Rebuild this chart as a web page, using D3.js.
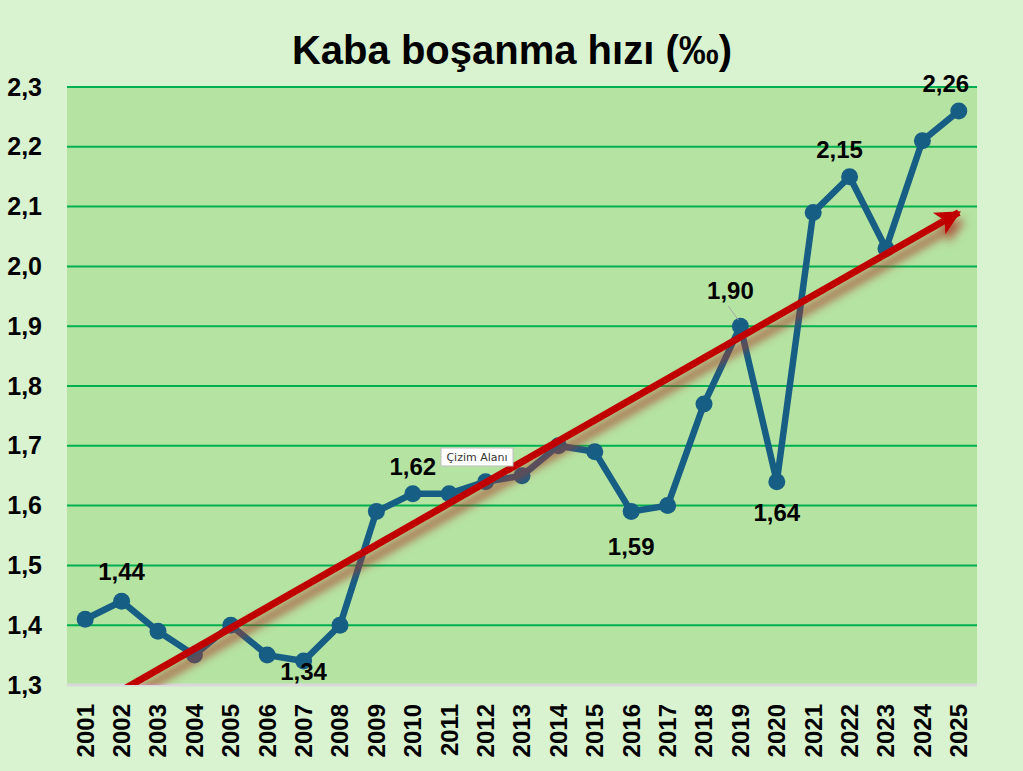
<!DOCTYPE html>
<html>
<head>
<meta charset="utf-8">
<script src="https://cdn.jsdelivr.net/npm/d3@7"></script>
<style>
  body { margin: 0; background: #d9f3d1; }
  svg { display: block; font-family: "Liberation Sans", Arial, sans-serif; }
</style>
</head>
<body>
<svg id="chart" width="1023" height="771"></svg>
<script>
// data
const years = ['2001','2002','2003','2004','2005','2006','2007','2008','2009','2010','2011','2012','2013',
  '2014','2015','2016','2017','2018','2019','2020','2021','2022','2023','2024','2025'];
const rates = [1.41, 1.44, 1.39, 1.35, 1.40, 1.35, 1.34, 1.40, 1.59, 1.62, 1.62, 1.64, 1.65,
  1.70, 1.69, 1.59, 1.60, 1.77, 1.90, 1.64, 2.09, 2.15, 2.03, 2.21, 2.26];
const yTicks = [1.3, 1.4, 1.5, 1.6, 1.7, 1.8, 1.9, 2.0, 2.1, 2.2, 2.3];
const labelledYears = ['2002','2007','2010','2016','2019','2020','2022','2025'];

// label placement (dx, dy from the marker)
const labelPos = {
  '2002': [0, -21], '2007': [0, 19], '2010': [0, -19], '2016': [0, 43],
  '2019': [-10, -27], '2020': [0, 39], '2022': [-10, -19], '2025': [-13, -19]
};

let svg = d3.select('#chart');
let plotL = 67, plotR = 977, plotT = 87, plotB = 685;

let comma = f => (v => d3.format(f)(v).replace('.', ','));

let x = d3.scaleBand().domain(years).range([plotL, plotR]).padding(0);
let y = d3.scaleLinear().domain([1.3, 2.3]).range([plotB, plotT]);
let cx = d => x(d) + x.bandwidth() / 2;

let defs = svg.append('defs');
defs.append('clipPath').attr('id', 'plotClip')
  .append('rect').attr('x', plotL).attr('y', plotT - 2).attr('width', plotR - plotL).attr('height', plotB - plotT + 2);

let shadow = defs.append('filter').attr('id', 'shadow')
  .attr('x', '-20%').attr('y', '-20%').attr('width', '140%').attr('height', '140%');
shadow.append('feGaussianBlur').attr('in', 'SourceAlpha').attr('stdDeviation', 5).attr('result', 'blur');
shadow.append('feOffset').attr('in', 'blur').attr('dx', 3).attr('dy', 9).attr('result', 'off');
shadow.append('feFlood').attr('flood-color', '#a83a28').attr('flood-opacity', 0.85);
shadow.append('feComposite').attr('in2', 'off').attr('operator', 'in').attr('result', 'sh');
let merge = shadow.append('feMerge');
merge.append('feMergeNode').attr('in', 'sh');
merge.append('feMergeNode').attr('in', 'SourceGraphic');

defs.append('marker').attr('id', 'arrow')
  .attr('viewBox', '0 0 10 10').attr('refX', 9).attr('refY', 5)
  .attr('markerWidth', 4).attr('markerHeight', 3.6)
  .attr('markerUnits', 'strokeWidth').attr('orient', 'auto')
  .append('path').attr('d', 'M0,0 L10,5 L0,10 L2.5,5 Z').attr('fill', '#c00000');

// title
svg.append('text')
  .attr('x', 512).attr('y', 64)
  .attr('text-anchor', 'middle')
  .style('font-size', '40px').style('font-weight', 'bold')
  .text('Kaba boşanma hızı (‰)');

// plot area
svg.append('rect')
  .attr('x', plotL).attr('y', plotT).attr('width', plotR - plotL).attr('height', plotB - plotT)
  .attr('fill', '#b5e4a2');

// gridlines
svg.append('g').selectAll('line').data(yTicks.filter(t => t > 1.3)).join('line')
  .attr('x1', plotL).attr('x2', plotR)
  .attr('y1', d => y(d)).attr('y2', d => y(d))
  .attr('stroke', '#00b050').attr('stroke-width', 2);

// bottom axis line
svg.append('line')
  .attr('x1', plotL).attr('x2', plotR).attr('y1', plotB).attr('y2', plotB)
  .attr('stroke', '#d9d9d9').attr('stroke-width', 3);

// y axis
let yAxis = svg.append('g')
  .attr('transform', `translate(${plotL},0)`)
  .call(d3.axisLeft(y).tickValues(yTicks).tickFormat(comma('.1f')).tickSize(0).tickPadding(25));
yAxis.select('.domain').remove();
yAxis.selectAll('text')
  .style('font-size', '25px').style('font-weight', 'bold').attr('fill', '#000')
  .style('font-family', '"Liberation Sans", Arial, sans-serif');

// x axis
let xAxis = svg.append('g')
  .attr('transform', `translate(0,${plotB})`)
  .call(d3.axisBottom(x).tickSize(0).tickPadding(0));
xAxis.select('.domain').remove();
xAxis.selectAll('text')
  .attr('transform', 'rotate(-90)')
  .attr('x', -19).attr('y', 0).attr('dy', '0.35em')
  .attr('text-anchor', 'end')
  .style('font-size', '24px').style('font-weight', 'bold').attr('fill', '#000')
  .style('font-family', '"Liberation Sans", Arial, sans-serif');

// data line + markers
let line = d3.line().x((d, i) => cx(years[i])).y(d => y(d));
svg.append('path')
  .datum(rates)
  .attr('d', line)
  .attr('fill', 'none')
  .attr('stroke', '#175e84').attr('stroke-width', 6.5)
  .attr('stroke-linejoin', 'round');

svg.append('g').selectAll('circle').data(rates).join('circle')
  .attr('cx', (d, i) => cx(years[i]))
  .attr('cy', d => y(d))
  .attr('r', 8.5)
  .attr('fill', '#175e84');

// linear trend, drawn as an arrow
let xi = years.map((d, i) => i);
let mx = d3.mean(xi), my = d3.mean(rates);
let slope = d3.sum(xi, i => (i - mx) * (rates[i] - my)) / d3.sum(xi, i => (i - mx) * (i - mx));
let icpt = my - slope * mx;
let trend = [0, years.length - 1].map(i => [cx(years[i]), y(icpt + slope * i)]);

svg.append('g').attr('clip-path', 'url(#plotClip)')
  .append('line')
  .attr('x1', trend[0][0]).attr('y1', trend[0][1])
  .attr('x2', trend[1][0]).attr('y2', trend[1][1])
  .attr('stroke', '#c00000').attr('stroke-width', 7)
  .attr('marker-end', 'url(#arrow)')
  .attr('filter', 'url(#shadow)');

// leader line for 1,90
let i19 = years.indexOf('2019');
svg.append('line')
  .attr('x1', cx('2019') - 12).attr('y1', y(rates[i19]) - 20)
  .attr('x2', cx('2019') - 2).attr('y2', y(rates[i19]) - 6)
  .attr('stroke', '#a6a6a6').attr('stroke-width', 1);

// data labels
svg.append('g').selectAll('text').data(labelledYears).join('text')
  .attr('x', d => cx(d) + labelPos[d][0])
  .attr('y', d => y(rates[years.indexOf(d)]) + labelPos[d][1])
  .attr('text-anchor', 'middle')
  .style('font-size', '24px').style('font-weight', 'bold')
  .text(d => comma('.2f')(rates[years.indexOf(d)]));

// hover tooltip caught in the screenshot
let tip = svg.append('g').attr('transform', 'translate(441,448)');
tip.append('rect').attr('width', 72).attr('height', 18)
  .attr('fill', '#fff').attr('stroke', '#bdbdbd').attr('stroke-width', 1);
tip.append('text').attr('x', 36).attr('y', 13).attr('text-anchor', 'middle')
  .style('font-size', '11px').style('font-family', '"DejaVu Sans", "Noto Sans", sans-serif')
  .attr('fill', '#333').text('Çizim Alanı');
</script>
</body>
</html>
